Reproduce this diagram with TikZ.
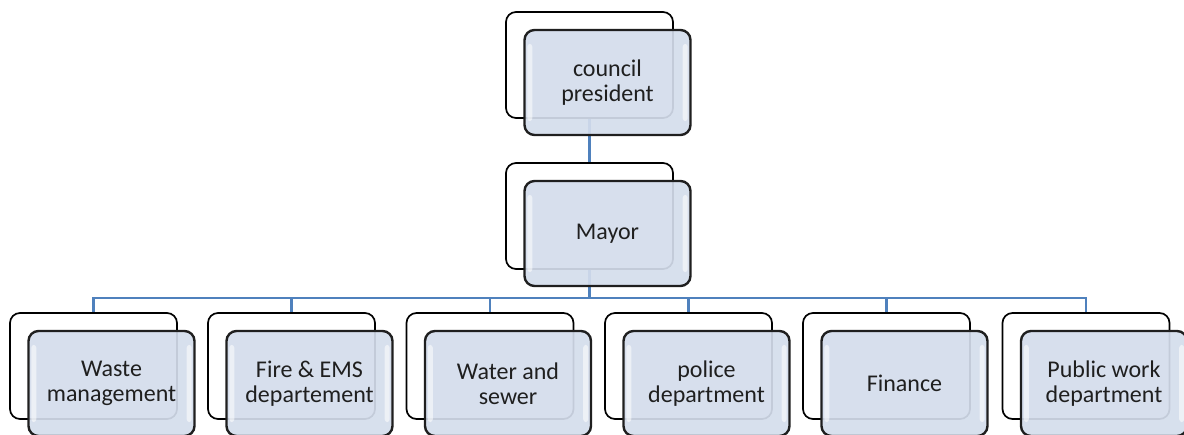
\documentclass[tikz,border=0pt]{standalone}
\usepackage{fontspec}
\setmainfont{Carlito}
\definecolor{linkblue}{HTML}{4F81BD}
\definecolor{boxfill}{HTML}{D4DDEC}
\begin{document}
\begin{tikzpicture}[x=1pt,y=-1pt,
  backbox/.style={draw=black, line width=1.7pt, fill=white, rounded corners=10pt,
    minimum width=167pt, minimum height=106pt, inner sep=0pt},
  frontbox/.style={draw=black!88, line width=2.4pt, fill=boxfill, fill opacity=0.92,
    text opacity=1, rounded corners=10pt, minimum width=166pt, minimum height=105pt,
    inner sep=0pt, align=center, text=black!88,
    font=\fontsize{24}{25}\selectfont},
  link/.style={draw=linkblue, line width=2.6pt},
  glare/.style={fill=white, opacity=0.55, rounded corners=3pt}]
\useasboundingbox (0,0) rectangle (1184,435);
\clip (0,0) rectangle (1184,435);

\newcommand{\glarestrips}[1]{%
  \fill[glare] ([xshift=4pt,yshift=-15pt]#1.north west) rectangle ([xshift=9pt,yshift=15pt]#1.south west);
  \fill[glare] ([xshift=-9pt,yshift=-15pt]#1.north east) rectangle ([xshift=-4pt,yshift=15pt]#1.south east);}

% back cards
\node[backbox] (cpB) at (589.5,65) {};
\node[backbox] (myB) at (589.5,216) {};
\foreach \n/\x in {wm/93.5,fe/291.5,ws/490,pd/688.5,fi/886.5,pw/1086}
  \node[backbox] (\n B) at (\x,366) {};

% connectors
\coordinate (bus) at (589.5,298);
\draw[link] (cpB.south) -- (myB.north);
\foreach \n in {wm,fe,ws,pd,fi,pw}
  \draw[link] (myB.south) -- (myB.south |- bus) -| (\n B.north);

% front cards
\node[frontbox] (cp) at (607.5,82.5) {council\\president};
\node[frontbox] (my) at (607.5,233.5) {Mayor};
\node[frontbox] (wm) at (111.5,383.5) {Waste\\management};
\node[frontbox] (fe) at (309.5,383.5) {Fire \& EMS\\departement};
\node[frontbox] (ws) at (508,383.5) {Water and\\sewer};
\node[frontbox] (pd) at (706.5,383.5) {police\\department};
\node[frontbox] (fi) at (904.5,383.5) {Finance};
\node[frontbox] (pw) at (1104,383.5) {Public work\\department};
\foreach \n in {cp,my,wm,fe,ws,pd,fi,pw} {\glarestrips{\n}}
\end{tikzpicture}
\end{document}
